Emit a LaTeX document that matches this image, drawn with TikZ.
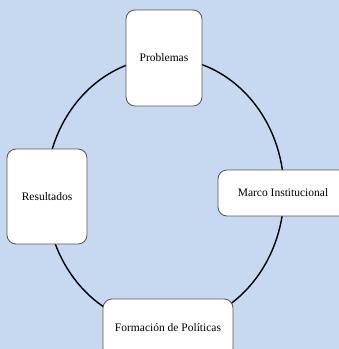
\documentclass[tikz,border=0pt]{standalone}
\usepackage{fontspec}
\setmainfont{Liberation Serif}
\usetikzlibrary{positioning}
\definecolor{fondo}{RGB}{198,217,241}
\definecolor{borde}{RGB}{85,85,85}
\begin{document}
\begin{tikzpicture}[x=1pt, y=-1pt,
        caja/.style={draw=borde, fill=white, rounded corners=9pt, line width=0.8pt,
          inner sep=0pt, font=\fontsize{11.5}{13}\selectfont}]
        \fill[fondo] (0,0) rectangle (339,349);
        \clip (0,0) rectangle (339,349);
        \draw[line width=1.4pt] (165,192) ellipse [x radius=119, y radius=134];
        \node[caja, minimum width=76pt, minimum height=96pt] (problemas) at (164,58) {Problemas};
        \node[caja, minimum width=130pt, minimum height=46pt] (marco) at (283,193) {Marco Institucional};
        \node[caja, minimum width=130pt, minimum height=58pt] (formacion) at (168,328) {Formación de Políticas};
        \node[caja, minimum width=80pt, minimum height=95pt] (resultados) at (47,196.5) {Resultados};
      \end{tikzpicture}
\end{document}
